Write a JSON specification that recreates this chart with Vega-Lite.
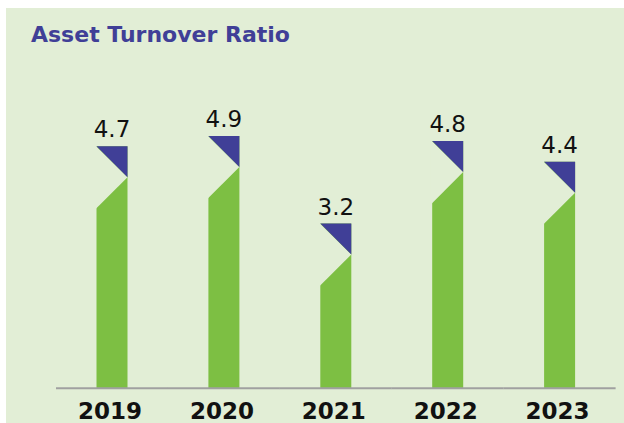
{
  "$schema": "https://vega.github.io/schema/vega-lite/v6.json",
  "autosize": "none",
  "width": 618,
  "height": 415,
  "padding": {"left": 6, "top": 8, "right": 0, "bottom": 0},
  "background": "#ffffff",
  "config": {"view": {"fill": "#e2eed6", "stroke": null}},
  "title": {
    "text": "Asset Turnover Ratio",
    "anchor": "start",
    "frame": "group",
    "orient": "top",
    "font": "DejaVu Sans",
    "fontWeight": "bold",
    "fontSize": 22,
    "color": "#403f97",
    "baseline": "alphabetic",
    "offset": -56,
    "dx": 25
  },
  "data": {
    "values": [
      {"year": "2019", "value": 4.7},
      {"year": "2020", "value": 4.9},
      {"year": "2021", "value": 3.2},
      {"year": "2022", "value": 4.8},
      {"year": "2023", "value": 4.4}
    ]
  },
  "encoding": {
    "x": {
      "field": "year",
      "type": "nominal",
      "sort": null,
      "scale": {"paddingInner": 0, "paddingOuter": 0.2614, "align": 0.8556},
      "axis": {
        "title": null,
        "orient": "bottom",
        "offset": -35,
        "domain": false,
        "ticks": false,
        "tickSize": 0,
        "grid": false,
        "labelAngle": 0,
        "labelFont": "DejaVu Sans",
        "labelFontWeight": "bold",
        "labelFontSize": 23,
        "labelColor": "#111111",
        "labelBaseline": "alphabetic",
        "labelPadding": 30,
        "labelOffset": -2
      }
    }
  },
  "layer": [
    {
      "mark": {"type": "bar", "width": 31, "color": "#7dbf43"},
      "encoding": {
        "y": {
          "field": "value",
          "type": "quantitative",
          "scale": {"domain": [-0.674, 7.385], "nice": false, "zero": false},
          "axis": null
        },
        "y2": {"datum": 0}
      }
    },
    {
      "mark": {
        "type": "point",
        "shape": "M -1.12 -0.1 L 1 2 L -1.12 4.12 Z",
        "size": 961,
        "filled": true,
        "opacity": 1,
        "color": "#e2eed6",
        "strokeWidth": 0
      },
      "encoding": {"y": {"field": "value", "type": "quantitative"}}
    },
    {
      "mark": {
        "type": "point",
        "shape": "M -1 0 L 1 0 L 1 2 Z",
        "size": 961,
        "filled": true,
        "opacity": 1,
        "color": "#403f97",
        "strokeWidth": 0
      },
      "encoding": {"y": {"field": "value", "type": "quantitative"}}
    },
    {
      "mark": {
        "type": "text",
        "font": "DejaVu Sans",
        "fontSize": 23,
        "color": "#111111",
        "baseline": "alphabetic",
        "align": "center",
        "dy": -9
      },
      "encoding": {
        "y": {"field": "value", "type": "quantitative"},
        "text": {"field": "value", "type": "quantitative", "format": ".1f"}
      }
    },
    {
      "mark": {"type": "rule", "color": "#a0a0a0", "strokeWidth": 2, "xOffset": -56, "x2Offset": 56},
      "encoding": {
        "x2": {"field": "year"},
        "y": {"datum": 0}
      }
    }
  ]
}
